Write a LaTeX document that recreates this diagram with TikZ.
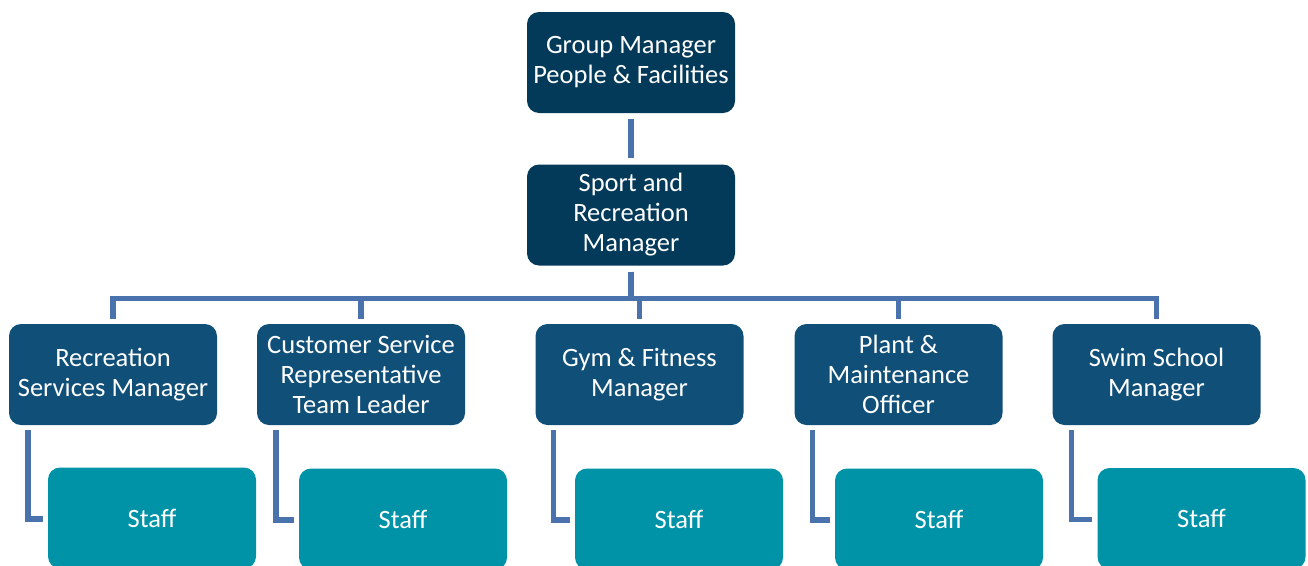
\documentclass[tikz,border=0pt]{standalone}
\usepackage{fontspec}
\setmainfont{Carlito}
\usepackage{xcolor}
\usetikzlibrary{positioning}

\definecolor{headblue}{HTML}{033A5A}
\definecolor{mgrblue}{HTML}{0F4F78}
\definecolor{staffteal}{HTML}{0093A7}
\definecolor{linkblue}{HTML}{4A73AD}

\begin{document}
\begin{tikzpicture}[x=1pt, y=-1pt]
            \useasboundingbox (0,0) rectangle (1308,565);
            \clip (0,0) rectangle (1308,565);

            % Define block styles
            \tikzstyle{box} = [rectangle, rounded corners=12pt, minimum width=208pt, minimum height=101pt, inner sep=2pt, align=center, text=white, font=\fontsize{26.5}{30}\selectfont]
            \tikzstyle{head} = [box, fill=headblue]
            \tikzstyle{mgr} = [box, fill=mgrblue]
            \tikzstyle{staff} = [box, fill=staffteal]
            \tikzstyle{link} = [draw=linkblue, line width=5.5pt]

            % Nodes
            \node[head] at (631,62.5) (gm) {Group Manager\\People \& Facilities};
            \node[head] at (631,215) (srm) {Sport and\\Recreation\\Manager};
            \node[mgr] at (113,374.5) (rsm) {Recreation\\Services Manager};
            \node[mgr] at (361,374.5) (csr) {Customer Service\\Representative\\Team Leader};
            \node[mgr] at (639.5,374.5) (gym) {Gym \& Fitness\\Manager};
            \node[mgr] at (898.5,374.5) (pmo) {Plant \&\\Maintenance\\Officer};
            \node[mgr] at (1156.5,374.5) (ssm) {Swim School\\Manager};
            \node[staff] at (152,518) (st1) {Staff};
            \node[staff] at (403,519) (st2) {Staff};
            \node[staff] at (679,519) (st3) {Staff};
            \node[staff] at (939,519) (st4) {Staff};
            \node[staff] at (1201.5,518.5) (st5) {Staff};

            % Links
            \draw[link, shorten <=6pt, shorten >=6pt] (gm.south) -- (srm.north);
            \foreach \m in {rsm,csr,gym,pmo,ssm}
                \draw[link, shorten <=6pt, shorten >=5pt] (srm.south) -- ++(0,33) -| (\m.north);
            \draw[link, shorten <=5pt, shorten >=5pt] ([xshift=19pt]rsm.south west) |- ([yshift=-1pt]st1.west);
            \draw[link, shorten <=5pt, shorten >=5pt] ([xshift=19pt]csr.south west) |- ([yshift=-1pt]st2.west);
            \draw[link, shorten <=5pt, shorten >=5pt] ([xshift=18pt]gym.south west) |- ([yshift=-1pt]st3.west);
            \draw[link, shorten <=5pt, shorten >=5pt] ([xshift=18pt]pmo.south west) |- ([yshift=-1pt]st4.west);
            \draw[link, shorten <=5pt, shorten >=5pt] ([xshift=19pt]ssm.south west) |- ([yshift=-1pt]st5.west);
        \end{tikzpicture}
\end{document}
